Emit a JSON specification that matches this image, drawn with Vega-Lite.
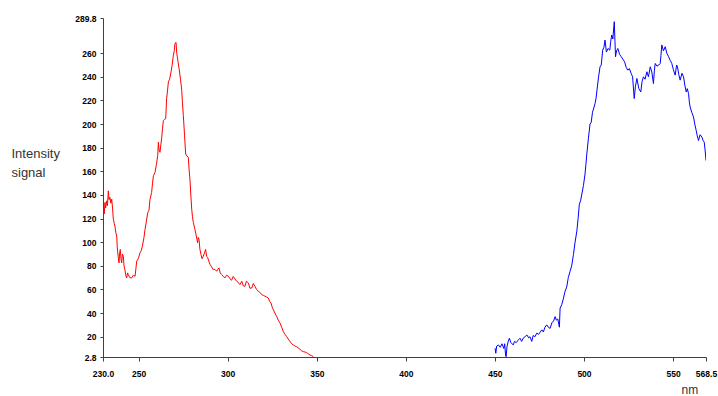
{
  "$schema": "https://vega.github.io/schema/vega-lite/v6.json",
  "width": 603,
  "height": 339,
  "autosize": {"type": "none"},
  "padding": {"left": 103, "top": 18, "right": 12, "bottom": 39},
  "background": "white",
  "config": {"view": {"stroke": null}, "font": "Liberation Sans"},
  "datasets": {
    "red": [{"nm":230,"signal":119.4},{"nm":230.3,"signal":127.9},{"nm":230.7,"signal":124},{"nm":231.1,"signal":133.6},{"nm":231.5,"signal":129},{"nm":232,"signal":135},{"nm":232.5,"signal":131},{"nm":233,"signal":143.5},{"nm":233.4,"signal":136},{"nm":233.9,"signal":138},{"nm":234.4,"signal":133},{"nm":234.9,"signal":136.4},{"nm":235.4,"signal":128},{"nm":235.8,"signal":119.4},{"nm":236.3,"signal":116},{"nm":236.7,"signal":113.7},{"nm":237.2,"signal":108},{"nm":237.7,"signal":105.2},{"nm":238,"signal":96},{"nm":238.2,"signal":92.4},{"nm":238.5,"signal":88},{"nm":239,"signal":82.5},{"nm":239.3,"signal":90},{"nm":239.7,"signal":93.9},{"nm":240.1,"signal":86},{"nm":240.5,"signal":82.5},{"nm":240.9,"signal":90},{"nm":241.4,"signal":88.2},{"nm":241.8,"signal":80},{"nm":242.3,"signal":76.8},{"nm":242.8,"signal":72},{"nm":243.3,"signal":69.8},{"nm":243.8,"signal":74},{"nm":244.2,"signal":72.6},{"nm":245,"signal":70},{"nm":246.1,"signal":69.8},{"nm":247,"signal":72},{"nm":248,"signal":71.2},{"nm":248.5,"signal":78},{"nm":248.9,"signal":83.9},{"nm":249.8,"signal":86},{"nm":250.8,"signal":91},{"nm":251.5,"signal":93},{"nm":252.1,"signal":96.7},{"nm":253,"signal":104},{"nm":253.6,"signal":110.9},{"nm":254.4,"signal":118},{"nm":255.1,"signal":125},{"nm":255.8,"signal":127},{"nm":256.4,"signal":136.4},{"nm":257.3,"signal":142.1},{"nm":257.8,"signal":150},{"nm":258.3,"signal":156.3},{"nm":259.2,"signal":159.1},{"nm":260,"signal":166},{"nm":260.7,"signal":173.3},{"nm":261.1,"signal":184.6},{"nm":261.5,"signal":178},{"nm":262,"signal":176.1},{"nm":262.5,"signal":183},{"nm":262.9,"signal":187.5},{"nm":263.4,"signal":196},{"nm":263.9,"signal":203},{"nm":264.5,"signal":204},{"nm":265.2,"signal":204.5},{"nm":265.7,"signal":221.5},{"nm":266.2,"signal":228},{"nm":266.7,"signal":235.7},{"nm":267.4,"signal":238},{"nm":268.2,"signal":244.2},{"nm":268.8,"signal":250},{"nm":269.5,"signal":258.4},{"nm":270,"signal":262},{"nm":270.4,"signal":268.3},{"nm":271,"signal":269.2},{"nm":271.4,"signal":260},{"nm":271.7,"signal":257},{"nm":272.2,"signal":252},{"nm":272.7,"signal":247.1},{"nm":273.5,"signal":238},{"nm":274.2,"signal":228.6},{"nm":274.6,"signal":218},{"nm":275.1,"signal":207.3},{"nm":275.8,"signal":190},{"nm":276.4,"signal":174.7},{"nm":277.1,"signal":173},{"nm":277.9,"signal":171.9},{"nm":278.3,"signal":162},{"nm":278.8,"signal":153.4},{"nm":279.3,"signal":140},{"nm":279.8,"signal":127.9},{"nm":280.2,"signal":122},{"nm":280.7,"signal":116.6},{"nm":281.6,"signal":110.9},{"nm":282.3,"signal":106},{"nm":283.1,"signal":99.5},{"nm":283.5,"signal":104},{"nm":283.9,"signal":102.4},{"nm":284.4,"signal":94},{"nm":285,"signal":89.6},{"nm":285.6,"signal":86},{"nm":286.3,"signal":88.2},{"nm":287,"signal":91},{"nm":287.6,"signal":93.9},{"nm":288.2,"signal":88},{"nm":288.8,"signal":86.8},{"nm":289.4,"signal":84},{"nm":290.1,"signal":81.1},{"nm":291,"signal":79},{"nm":291.9,"signal":76.8},{"nm":292.8,"signal":77},{"nm":293.8,"signal":75.4},{"nm":294.4,"signal":77},{"nm":295.1,"signal":78.3},{"nm":295.8,"signal":74},{"nm":296.6,"signal":72.6},{"nm":297.5,"signal":71},{"nm":298.5,"signal":69.8},{"nm":299.4,"signal":72},{"nm":300.4,"signal":71.2},{"nm":301.3,"signal":69},{"nm":302.2,"signal":67.8},{"nm":303.1,"signal":71},{"nm":304.1,"signal":68.9},{"nm":305,"signal":67},{"nm":305.9,"signal":66},{"nm":306.9,"signal":64.1},{"nm":307.9,"signal":66.9},{"nm":308.8,"signal":63},{"nm":309.7,"signal":62.7},{"nm":310.5,"signal":67},{"nm":311.6,"signal":65.5},{"nm":312.5,"signal":61},{"nm":313.5,"signal":61.2},{"nm":314.4,"signal":65},{"nm":315.3,"signal":62.7},{"nm":316.2,"signal":60},{"nm":317.2,"signal":58.4},{"nm":318.1,"signal":57.5},{"nm":319.1,"signal":55.6},{"nm":320,"signal":55},{"nm":321,"signal":54.2},{"nm":321.9,"signal":53.5},{"nm":322.8,"signal":52.7},{"nm":323.5,"signal":50},{"nm":324.3,"signal":48.5},{"nm":325,"signal":45},{"nm":325.6,"signal":42.8},{"nm":326.5,"signal":40},{"nm":327.5,"signal":37.1},{"nm":328.4,"signal":34},{"nm":329.4,"signal":31.5},{"nm":330.3,"signal":28},{"nm":331.2,"signal":24.4},{"nm":332.1,"signal":22},{"nm":333.1,"signal":20.1},{"nm":334,"signal":18},{"nm":335,"signal":15.9},{"nm":335.9,"signal":14},{"nm":336.9,"signal":13},{"nm":337.8,"signal":12},{"nm":338.7,"signal":11.6},{"nm":339.6,"signal":10.5},{"nm":340.6,"signal":9.3},{"nm":341.5,"signal":8},{"nm":342.5,"signal":7.3},{"nm":343.4,"signal":7},{"nm":344.3,"signal":6.5},{"nm":345.2,"signal":5.5},{"nm":346.2,"signal":4.5},{"nm":347.1,"signal":4},{"nm":348.1,"signal":3.1}],
    "blue": [{"nm":450.1,"signal":10.2},{"nm":450.5,"signal":6},{"nm":451,"signal":12},{"nm":452,"signal":13},{"nm":453,"signal":11},{"nm":454,"signal":14},{"nm":454.5,"signal":12},{"nm":455,"signal":10},{"nm":455.5,"signal":14},{"nm":456,"signal":4},{"nm":456.3,"signal":3},{"nm":456.8,"signal":12},{"nm":457.5,"signal":16},{"nm":458.1,"signal":18.7},{"nm":459,"signal":15},{"nm":460.3,"signal":13},{"nm":461,"signal":16},{"nm":462,"signal":15},{"nm":463,"signal":17},{"nm":464.1,"signal":18.7},{"nm":465,"signal":16},{"nm":466,"signal":19},{"nm":467,"signal":20},{"nm":467.9,"signal":21.5},{"nm":469,"signal":19},{"nm":469.7,"signal":20},{"nm":470.7,"signal":16},{"nm":471.5,"signal":21},{"nm":472.5,"signal":20},{"nm":473.5,"signal":23},{"nm":474.5,"signal":22},{"nm":475.5,"signal":24},{"nm":476.3,"signal":25.8},{"nm":477.2,"signal":24},{"nm":478.1,"signal":28},{"nm":479.1,"signal":30},{"nm":480,"signal":28},{"nm":481,"signal":27},{"nm":482,"signal":32},{"nm":482.9,"signal":33},{"nm":483.8,"signal":37},{"nm":484.5,"signal":34},{"nm":485.3,"signal":35},{"nm":486.2,"signal":28},{"nm":486.6,"signal":44.2},{"nm":487.5,"signal":47},{"nm":488.4,"signal":52},{"nm":489.4,"signal":58.4},{"nm":490.3,"signal":62},{"nm":491.2,"signal":70},{"nm":492.2,"signal":75.4},{"nm":493.1,"signal":80},{"nm":494.1,"signal":89.6},{"nm":495,"signal":100},{"nm":496,"signal":109.4},{"nm":496.7,"signal":120},{"nm":497.4,"signal":132.2},{"nm":498.1,"signal":135},{"nm":498.8,"signal":140.7},{"nm":499.7,"signal":148},{"nm":500.6,"signal":157.7},{"nm":501.1,"signal":166},{"nm":501.6,"signal":174.7},{"nm":502.5,"signal":188},{"nm":503.4,"signal":200.2},{"nm":504,"signal":201},{"nm":504.8,"signal":210},{"nm":506.2,"signal":217.3},{"nm":506.8,"signal":222},{"nm":507.5,"signal":231.4},{"nm":508.2,"signal":240},{"nm":509,"signal":248.4},{"nm":509.7,"signal":250},{"nm":510.5,"signal":262.6},{"nm":511.2,"signal":265},{"nm":511.8,"signal":271.1},{"nm":512.2,"signal":266},{"nm":512.6,"signal":261},{"nm":513.5,"signal":264},{"nm":514.5,"signal":262.6},{"nm":515,"signal":270},{"nm":515.6,"signal":275.4},{"nm":516.2,"signal":272},{"nm":517,"signal":286.7},{"nm":517.4,"signal":270},{"nm":517.7,"signal":257},{"nm":518.3,"signal":262},{"nm":519,"signal":264},{"nm":520,"signal":259},{"nm":520.9,"signal":257},{"nm":521.8,"signal":255},{"nm":522.8,"signal":252.7},{"nm":523.7,"signal":248},{"nm":524.6,"signal":245.6},{"nm":525.5,"signal":247},{"nm":526.5,"signal":242.8},{"nm":527.3,"signal":240},{"nm":528.2,"signal":221.6},{"nm":528.9,"signal":232},{"nm":529.7,"signal":238.6},{"nm":530.8,"signal":230},{"nm":531.9,"signal":227.2},{"nm":532.6,"signal":236},{"nm":533.4,"signal":240},{"nm":534.3,"signal":238},{"nm":535.3,"signal":244.3},{"nm":536.2,"signal":240},{"nm":537.2,"signal":248.5},{"nm":538.1,"signal":244},{"nm":539,"signal":234.3},{"nm":539.5,"signal":245},{"nm":540,"signal":251.3},{"nm":541,"signal":249},{"nm":542,"signal":250},{"nm":542.8,"signal":251.3},{"nm":543.2,"signal":258},{"nm":543.7,"signal":267},{"nm":544.6,"signal":262},{"nm":545.6,"signal":265.5},{"nm":546.5,"signal":260},{"nm":547.5,"signal":257},{"nm":548.4,"signal":254},{"nm":549.3,"signal":251.3},{"nm":550.2,"signal":246},{"nm":551.2,"signal":241.4},{"nm":552,"signal":250},{"nm":552.5,"signal":248.5},{"nm":553.2,"signal":242},{"nm":554,"signal":237.2},{"nm":555,"signal":243},{"nm":555.9,"signal":240},{"nm":556.6,"signal":233},{"nm":557.4,"signal":227.2},{"nm":558,"signal":230},{"nm":558.7,"signal":225.8},{"nm":559.2,"signal":218},{"nm":559.6,"signal":214.5},{"nm":560.5,"signal":210},{"nm":561.5,"signal":206},{"nm":562.2,"signal":200},{"nm":563,"signal":194.6},{"nm":563.6,"signal":190},{"nm":564.3,"signal":186.1},{"nm":565.2,"signal":191},{"nm":566.2,"signal":189},{"nm":566.9,"signal":186},{"nm":567.5,"signal":184.7},{"nm":568,"signal":178},{"nm":568.5,"signal":169.1}]
  },
  "encoding": {
    "x": {
      "field": "nm", "type": "quantitative",
      "scale": {"domain": [230, 568.5], "nice": false, "zero": false},
      "axis": {
        "title": "nm", "titleFont": "Liberation Sans", "titleFontSize": 12, "titleFontWeight": "normal", "titleColor": "#333333",
        "titleAnchor": "start", "titleAlign": "left", "titleX": 578, "titleY": 36, "titleBaseline": "alphabetic",
        "values": [230, 250, 300, 350, 400, 450, 500, 550, 568.5],
        "labelExpr": "datum.value == 230 ? '230.0' : datum.value == 568.5 ? '568.5' : '' + datum.value",
        "labelFontSize": 8.5, "labelFontWeight": "bold", "labelColor": "#000000", "labelPadding": 8, "labelFlush": false, "labelOverlap": false,
        "tickSize": 4, "tickColor": "#404040", "domainColor": "#404040", "grid": false
      }
    },
    "y": {
      "field": "signal", "type": "quantitative",
      "scale": {"domain": [2.8, 289.8], "nice": false, "zero": false},
      "axis": {
        "title": ["Intensity", "signal"], "titleFont": "Liberation Sans", "titleFontSize": 13, "titleFontWeight": "normal", "titleColor": "#333333",
        "titleAngle": 0, "titleAlign": "left", "titleBaseline": "alphabetic", "titleX": -92, "titleY": 139, "titleLineHeight": 19,
        "values": [2.8, 20, 40, 60, 80, 100, 120, 140, 160, 180, 200, 220, 240, 260, 289.8],
        "labelExpr": "datum.value == 2.8 ? '2.8' : datum.value == 289.8 ? '289.8' : '' + datum.value",
        "labelFontSize": 8.5, "labelFontWeight": "bold", "labelColor": "#000000", "labelPadding": 4, "labelFlush": false, "labelOverlap": false,
        "tickSize": 3, "tickColor": "#404040", "domainColor": "#404040", "grid": false
      }
    }
  },
  "layer": [
    {
      "data": {"name": "red"},
      "mark": {"type": "line", "color": "#ff0000", "strokeWidth": 1, "clip": true}
    },
    {
      "data": {"name": "blue"},
      "mark": {"type": "line", "color": "#0000ff", "strokeWidth": 1, "clip": true}
    }
  ]
}
